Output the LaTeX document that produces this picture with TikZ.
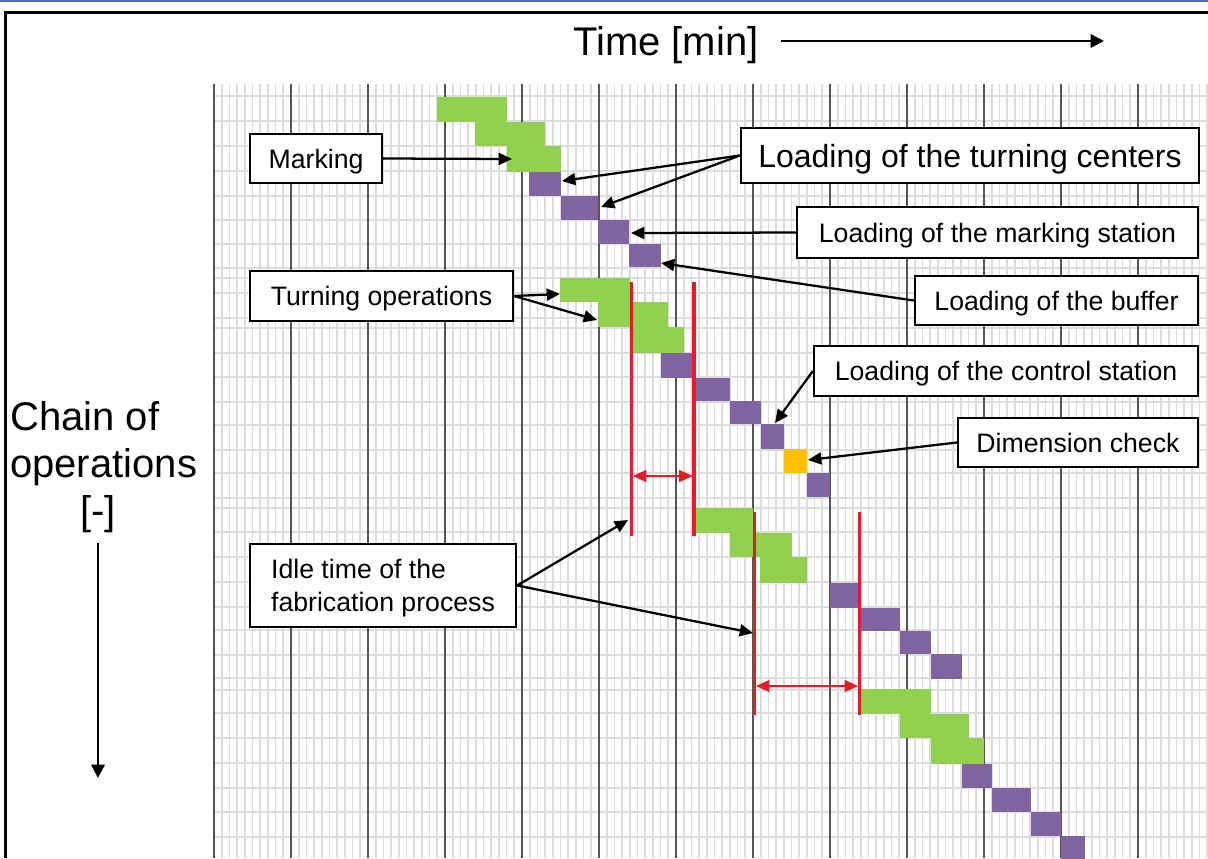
\documentclass[tikz,border=0pt]{standalone}
\usepackage{fontspec}
\setmainfont{Liberation Sans}
\usetikzlibrary{arrows.meta}

\definecolor{gridminor}{HTML}{DCDCDC}
\definecolor{gridmajor}{HTML}{555555}
\definecolor{opgreen}{HTML}{92D050}
\definecolor{oppurple}{HTML}{8064A2}
\definecolor{oporange}{HTML}{FFC000}
\definecolor{idlered}{HTML}{E41E26}
\definecolor{topblue}{HTML}{4A6EA8}

\tikzset{
  minorline/.style={draw=gridminor, line width=1.25pt},
  rowline/.style={draw=gridminor, line width=1.25pt},
  majorline/.style={draw=gridmajor, line width=1.1pt},
  labelbox/.style={draw=black, line width=1.7pt, fill=white, inner sep=0pt,
                   font=\fontsize{20}{24.75}\selectfont},
  oneline/.style={text height=14.5pt, text depth=0pt},
  callout/.style={draw=black, line width=1.7pt, -{Triangle[length=10pt,width=9pt]}},
  idleline/.style={draw=idlered, line width=2.6pt},
  idlespan/.style={draw=idlered, line width=0.9pt,
                   {Triangle[length=10pt,width=9pt]}-{Triangle[length=10pt,width=9pt]}},
  axisarrow/.style={draw=black, line width=1.8pt, -{Triangle[length=10pt,width=10pt]}},
  axislabel/.style={inner sep=0pt, font=\fontsize{30}{36}\selectfont},
}

\newcommand{\opblock}[5]{\fill[#1] (#2,#3) rectangle (#4,#5);}

\begin{document}
\begin{tikzpicture}[x=0.75pt,y=-0.75pt]
\useasboundingbox (0,0) rectangle (1208,858);
\fill[white] (0,0) rectangle (1208,858);

% page rule and frame
\fill[topblue] (0,0) rectangle (1208,2);
\draw[line width=1.7pt] (5.5,858) -- (5.5,12.5) -- (1208,12.5);

% time grid: fine columns, rows, then coarse columns
\foreach \k in {1,...,129}{
  \draw[minorline] ({214+7.7*\k},84) -- ({214+7.7*\k},858);
}
\foreach \y in {96,121,146,171,196,220,244,268,278,293,318,328,353,377,402,425,450,
                473,498,508,532,557,582,607,630,655,678,690,713,738,763,788,812,837}{
  \draw[rowline] (214,\y) -- (1208,\y);
}
\foreach \k in {0,...,12}{
  \draw[majorline] ({214+77*\k},84) -- ({214+77*\k},858);
}

% operations of the first part
\opblock{opgreen}{437}{97}{507}{122}
\opblock{opgreen}{475}{122}{545}{146}
\opblock{opgreen}{507}{146}{561}{172}
\opblock{oppurple}{529}{172}{561}{196}
\opblock{oppurple}{561}{196}{598}{220}
\opblock{oppurple}{598}{220}{629}{244}
\opblock{oppurple}{629}{244}{661}{267}
% operations of the second part
\opblock{opgreen}{560}{278}{630}{302}
\opblock{opgreen}{598}{302}{668}{327}
\opblock{opgreen}{630}{327}{684}{353}
\opblock{oppurple}{661}{353}{692}{378}
\opblock{oppurple}{692}{378}{730}{401}
\opblock{oppurple}{730}{401}{761}{424}
\opblock{oppurple}{761}{424}{784}{449}
\opblock{oporange}{784}{449}{807}{473}
\opblock{oppurple}{807}{473}{830}{497}
% operations of the third part
\opblock{opgreen}{693}{508}{753}{533}
\opblock{opgreen}{730}{533}{792}{557}
\opblock{opgreen}{760}{557}{807}{583}
\opblock{oppurple}{830}{583}{859}{608}
\opblock{oppurple}{859}{608}{900}{631}
\opblock{oppurple}{900}{631}{931}{654}
\opblock{oppurple}{931}{654}{962}{679}
% operations of the fourth part
\opblock{opgreen}{859}{689}{931}{714}
\opblock{opgreen}{900}{714}{969}{738}
\opblock{opgreen}{931}{738}{984}{764}
\opblock{oppurple}{962}{764}{992}{788}
\opblock{oppurple}{992}{788}{1031}{812}
\opblock{oppurple}{1031}{812}{1061}{836}
\opblock{oppurple}{1061}{836}{1085}{860}

% idle time markers
\coordinate (r1t) at (631.5,282); \coordinate (r1b) at (631.5,536);
\coordinate (r2t) at (694,282);   \coordinate (r2b) at (694,536);
\coordinate (r3t) at (754.5,512); \coordinate (r3b) at (754.5,715);
\coordinate (r4t) at (859.5,512); \coordinate (r4b) at (859.5,715);
\draw[idleline] (r1t) -- (r1b);
\draw[idleline] (r2t) -- (r2b);
\draw[idleline] (r3t) -- (r3b);
\draw[idleline] (r4t) -- (r4b);
\coordinate (s1a) at (633,476); \coordinate (s1b) at (692.5,476);
\coordinate (s2a) at (756,686); \coordinate (s2b) at (858,686);
\draw[idlespan] (s1a) -- (s1b);
\draw[idlespan] (s2a) -- (s2b);

% axis labels
\node[axislabel, anchor=base west] (time) at (573,55) {Time [min]};
\coordinate (timeend) at (1104,41);
\draw[axisarrow] (782,41 -| time.east) ++(22,0) -- (timeend);
\node[axislabel, anchor=base west] (chain1) at (10,430) {Chain of};
\node[axislabel, anchor=base west] (chain2) at (10,477) {operations};
\node[axislabel, anchor=base west] (chain3) at (80,524) {[-]};
\coordinate (chainend) at (98,778);
\draw[axisarrow] (chain3.south -| chainend) ++(0,10) -- (chainend);

% labels
\node[labelbox, oneline, minimum width=99pt, minimum height=36.75pt] (mark) at (316,158.5) {Marking};
\node[labelbox, oneline, minimum width=197.25pt, minimum height=37.5pt] (turn) at (381.5,296) {Turning operations};
\node[labelbox, align=left, minimum width=199.5pt, minimum height=62.25pt] (idle) at (383,585.5)
  {\rule{0pt}{19.1pt}Idle time of the\\fabrication process};
\node[labelbox, minimum width=343.5pt, minimum height=41.25pt, font=\fontsize{24}{28}\selectfont,
      text height=17.4pt, text depth=0pt]
  (ltc) at (970,155.5) {Loading of the turning centers};
\node[labelbox, oneline, minimum width=300.75pt, minimum height=38.25pt] (lms) at (997.5,232.5) {Loading of the marking station};
\node[labelbox, oneline, minimum width=212.25pt, minimum height=36.75pt] (lbuf) at (1056.5,300.5) {Loading of the buffer};
\node[labelbox, oneline, minimum width=288pt, minimum height=37.5pt] (lcs) at (1006,371) {Loading of the control station};
\node[labelbox, oneline, minimum width=180pt, minimum height=36.75pt] (dim) at (1078,442.5) {Dimension check};

% arrow targets on the chart
\coordinate (tMark) at (512,159);
\coordinate (tLoad1) at (562,181);
\coordinate (tLoad2) at (601,207);
\coordinate (tMarkSt) at (631,233);
\coordinate (tBuf) at (661,263);
\coordinate (tTurn1) at (560,294);
\coordinate (tTurn2) at (597,320);
\coordinate (tCtrl) at (775,423);
\coordinate (tDim) at (808,460);
\coordinate (tIdle1) at (628,520);
\coordinate (tIdle2) at (753,633);

\draw[callout] (mark.east) -- (tMark);
\draw[callout] (ltc.west) -- (tLoad1);
\draw[callout] (ltc.west) -- (tLoad2);
\draw[callout] (lms.west) -- (tMarkSt);
\draw[callout] (lbuf.west) -- (tBuf);
\draw[callout] (turn.east) -- (tTurn1);
\draw[callout] (turn.east) -- (tTurn2);
\draw[callout] (lcs.west) -- (tCtrl);
\draw[callout] (dim.west) -- (tDim);
\draw[callout] (idle.east) -- (tIdle1);
\draw[callout] (idle.east) -- (tIdle2);
\end{tikzpicture}
\end{document}
